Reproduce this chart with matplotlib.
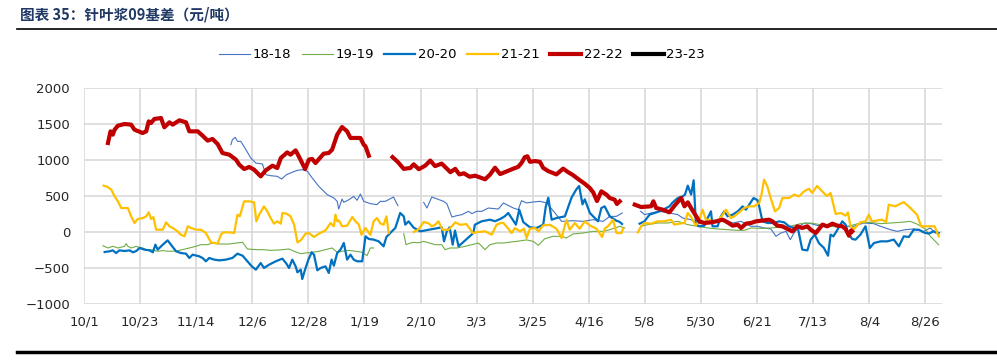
import numpy as np
import matplotlib
matplotlib.use("Agg")
import matplotlib.pyplot as plt
from matplotlib.lines import Line2D

plt.rcParams['font.family'] = ['DejaVu Sans', 'Noto Sans CJK SC']

nan = np.nan

# x = days since 10/1, y = basis (yuan/ton); nan marks a gap
s18 = [(57.6, 1213), (58.2, 1282), (59.3, 1315), (60.2, 1259), (61.5, 1259), (63.5, 1144), (65.4, 1028),
       (67.4, 958), (70, 944), (71.3, 796), (73.2, 782), (75.8, 773), (77.5, 736), (79.4, 796), (81, 820),
       (83.6, 856), (85.6, 866), (87.6, 843), (89.5, 750), (92.1, 634), (95.4, 519), (98, 472), (99.3, 426),
       (99.9, 319), (101.2, 458), (101.9, 412), (103.9, 449), (105.8, 495), (107.1, 440), (108.4, 528),
       (109.7, 426), (112.3, 394), (114.9, 380), (116.2, 426), (118.2, 426), (121.4, 486), (123.1, 366),
       (128, nan),
       (133.2, 412), (134.5, 333), (136.4, 486), (141, 426), (142.3, 394), (144.3, 208), (146.2, 227),
       (148.2, 241), (150.8, 287), (152.1, 255), (154, 287), (156, 287), (158.6, 333), (162.5, 319),
       (164.5, 403), (168.4, 333), (170.3, 310), (171.6, 435), (173.6, 403), (176.2, 417), (178.8, 426),
       (181.5, 403), (184.7, 264), (187.3, 148), (191.8, 157), (195.7, 148), (199.7, 171), (203.6, 148),
       (206.2, 217), (208.8, 217), (211.1, 264),
       (215, nan),
       (218.3, 287), (219.9, 241), (222.4, 264), (225.7, 287), (229.6, 264), (232.9, 241), (234.8, 194),
       (238.1, 171), (240.7, 116), (244.6, 125), (247.9, 148), (251, 171), (254.4, 125), (257.6, 148),
       (261.6, 79), (264.2, 79), (266.8, 56), (269.4, 42), (271.4, -60), (273.3, -14), (275.3, 9),
       (277, -106), (278.3, -23), (280.5, 79), (282.5, 125), (285.1, 116), (287.7, 90), (290.2, 102),
       (292.8, 95), (295.3, 80), (297.9, 69), (301.9, 79), (305.8, 125), (309.7, 116), (312.4, 79),
       (316.3, 32), (318.9, 9), (322.1, 32), (325.4, 42), (329.3, 9), (331.9, 56), (333.9, -14)]

s19 = [(7.4, -190), (9.4, -222), (11.3, -199), (13.3, -222), (15.9, -199), (16.5, -162), (17.2, -199),
       (18.5, -222), (20.5, -199), (21.1, -208), (23, -222), (24.4, -245), (26.3, -245), (28.9, -268),
       (30.9, -259), (33.5, -268), (36.1, -264), (38.7, -245), (41.3, -222), (43.9, -199), (45.9, -176),
       (48.5, -176), (50.4, -153), (53, -167), (57, -167), (59.6, -153), (62.2, -144), (64.1, -236),
       (67.4, -245), (70, -245), (73.2, -255), (76.5, -250), (80.4, -236), (82.4, -268), (85, -301),
       (86.9, -292), (89.5, -282), (92.1, -268), (94.7, -245), (97.3, -222), (99.3, -282), (101.2, -268),
       (103.9, -255), (106.5, -268), (109.1, -282), (111, -329), (112.3, -222), (113.6, -222),
       (119, nan),
       (125.4, -23), (126.3, -176), (128, -153), (129.3, -144), (131.3, -150), (133.2, -130), (135.2, -150),
       (137.7, -176), (140.3, -176), (141.6, -245), (143.6, -222), (146.2, -222), (149.5, -199),
       (152.1, -176), (154.7, -153), (157.3, -245), (159.2, -176), (161.8, -153), (164.5, -153),
       (167, -140), (169.7, -130), (173.6, -110), (176.2, -130), (178.2, -185), (180.7, -93), (184, -60),
       (187.3, -60), (189.2, -83), (191.8, -27), (195.7, -14), (199.7, 9), (203.6, 9), (206.2, 32),
       (210.1, 79), (212.1, 56),
       (215, nan),
       (218.3, 79), (221.1, 102), (225, 125), (229, 125), (232.9, 148), (236.8, 102), (240.7, 79),
       (244.6, 56), (248.5, 42), (252.4, 32), (256.4, 23), (259, 23), (261.6, 56), (265.5, 50),
       (269.4, 56), (272, 65), (274.6, 60), (277.1, 79), (281, 116), (285.1, 125), (289, 100), (292.9, 79),
       (296.8, 65), (300.8, 90), (304.5, 125), (308.4, 134), (312.4, 116), (316.3, 125), (320.2, 134),
       (324.1, 148), (326.7, 110), (330, 42), (331.9, -60), (335.2, -176)]

s20 = [(8.1, -278), (10, -268), (11.3, -255), (12.6, -292), (13.9, -255), (15.9, -264), (17.9, -255),
       (19.2, -282), (20.5, -264), (21.8, -222), (23.7, -245), (25.7, -255), (27, -282), (28, -176),
       (28.9, -245), (30.9, -176), (32.8, -116), (34.1, -176), (36.1, -268), (38, -292), (40, -301),
       (41.3, -361), (42.6, -315), (45.2, -338), (46.5, -361), (47.8, -407), (49.1, -361), (51.1, -384),
       (53, -394), (55.6, -384), (58.2, -361), (60.2, -301), (62.2, -329), (64.1, -407), (65.8, -477),
       (67.4, -523), (69.3, -431), (70.6, -500), (72.6, -454), (75.2, -407), (77.8, -370), (79.4, -440),
       (80.4, -500), (81.7, -384), (83, -477), (83.7, -560), (85, -523), (85.6, -653), (86.7, -523),
       (88, -384), (89.3, -282), (90.2, -315), (91.5, -532), (92.8, -500), (94.7, -477), (96, -569),
       (97.1, -384), (98, -468), (99.3, -292), (100.6, -245), (101.9, -153), (103.2, -384), (104.5, -315),
       (105.8, -384), (107.1, -407), (109.1, -407), (110.4, -60), (111.7, -97), (113.6, -106),
       (115.6, -130), (117.5, -199), (118.6, -69), (120.1, -14), (122.1, 56), (124, 264), (125.4, 218),
       (126, 102), (127.3, 148), (129.3, 60), (131.9, 9), (135, 30), (138, 50), (140.3, 65),
       (141.2, -130), (142.3, 10), (143.4, 65), (144.6, -176), (145.5, 20), (146.9, -199), (150, -100),
       (152.7, -14), (153.3, 101), (155.9, 148), (159.2, 171), (161.2, 150), (163.2, 180), (165, 217),
       (166.4, 264), (167.7, 194), (169.4, 102), (170.7, 310), (172.3, 137), (174.9, 65), (177.5, 56),
       (180.1, 102), (181.1, 352), (182.1, 477), (183.4, 171), (185.3, 194), (188.6, 217), (191.2, 477),
       (193.1, 593), (194.2, 639), (195.5, 384), (196.4, 454), (198.4, 264), (201.6, 148), (202.9, 333),
       (204.2, 356), (206.2, 217), (208.8, 157), (210.1, 140), (211, 111),
       (214, nan),
       (217.9, 116), (219.8, 148), (221.8, 241), (223.7, 264), (225.7, 287), (227.6, 319), (229.6, 356),
       (230.9, 412), (232.9, 472), (234.8, 495), (235.7, 519), (236.8, 644), (238.1, 519), (239.1, 718),
       (240, 102), (241.3, 79), (243.3, 88), (244.6, 194), (245.9, 287), (246.5, 79), (248.5, 79),
       (249.8, 218), (251.1, 287), (252.4, 218), (254.4, 241), (256.4, 287), (258.3, 356), (259.6, 310),
       (260.9, 380), (262.6, 472), (264.2, 440), (264.8, 356), (266.1, 148), (268.1, 125), (270.7, 125),
       (272.6, 148), (274.6, 134), (276.5, 79), (278.5, 56), (280, 50), (281.7, -245), (283.7, -255),
       (285, -106), (286.6, -37), (288.2, -153), (290.2, -222), (291.8, -329), (292.8, -37), (293.9, -60),
       (295.5, 32), (297.4, 148), (298.7, 102), (299.6, -14), (301.3, -97), (302.6, -106), (304.5, -37),
       (306.5, 79), (308.2, -222), (309.8, -153), (312.4, -130), (315, -130), (317.6, -106), (319.6, -199),
       (321.5, -60), (323.5, -69), (325.4, 32), (327.4, 32), (329.3, -5), (331.3, -23), (333.2, 9),
       (335.2, -14)]

s21 = [(7.7, 644), (9, 630), (10.7, 588), (12, 495), (13.3, 426), (14.6, 333), (17.2, 333), (18.5, 218),
       (19.8, 125), (21.1, 181), (23.1, 194), (24.4, 218), (25.4, 273), (26.3, 181), (27.2, 208),
       (28.3, 32), (30.9, 32), (32.2, 134), (33.5, 79), (34.8, 56), (36.7, 9), (38, -37), (39.4, -60),
       (40.7, 79), (42, 56), (43.9, 32), (45.9, 32), (47.8, -14), (49.8, -144), (52.4, -162), (53.7, -37),
       (54.6, -5), (57, -5), (58.9, -14), (60.2, 241), (61.1, 218), (62.8, 426), (64.8, 426), (66.7, 412),
       (67.6, 148), (68.7, 241), (70.6, 356), (71.9, 287), (73.2, 194), (74.5, 116), (75.8, 148),
       (77.2, 116), (77.8, 264), (79.4, 255), (81, 218), (82.4, 102), (83.7, -144), (85, -116),
       (86.9, -23), (88.2, -14), (90.2, -69), (92.1, -23), (94.7, 23), (96.7, 125), (98, 79), (98.6, 241),
       (99.3, 148), (100, 160), (101.2, 79), (103.2, 88), (105.2, 208), (106.5, 148), (107.8, 102),
       (108.8, -37), (110.4, 56), (112.3, -40), (113.6, 150), (114.9, 194), (116.2, 120), (117.5, 100),
       (118.6, 217), (119.5, -14),
       (124, nan),
       (129.3, 0), (131.3, 40), (133.2, 140), (135.2, 120), (136.4, 79), (137.7, 100), (139, 148),
       (140.6, 32), (143, 30), (145.6, 134), (147.5, 100), (150, 110), (152.5, -14), (154.5, 0),
       (157.3, 9), (159.9, -37), (161.8, 101), (163.5, 125), (164.5, 125), (166.4, 46), (167.7, -14),
       (169, 55), (171, 9), (172.5, 46), (173.6, -83), (174.9, 46), (176.9, 55), (178.2, 9), (180.1, 92),
       (182.7, 100), (185.3, 46), (187.3, -83), (189.2, 171), (190.5, 32), (192.5, 125), (194.4, 46),
       (196.4, 148), (198.4, 90), (201, 46), (203.2, -69), (204.2, 46), (205.8, 90), (207.5, 171),
       (208.8, -14), (210.8, -14), (211.4, 46),
       (214, nan),
       (217.2, -5), (218.5, 79), (219.8, 125), (222.4, 116), (225, 148), (227.6, 148), (230.2, 171),
       (231.5, 102), (233.5, 116), (235.5, 125), (236.8, 264), (238.1, 208), (240, 88), (241.3, 171),
       (242.6, 310), (243.9, 171), (245.2, 171), (246.5, 134), (248.5, 148), (250.5, 241), (251.8, 310),
       (253.7, 194), (255, 218), (257, 273), (258.9, 333), (260.9, 356), (262.8, 356), (264.8, 403),
       (265.7, 519), (266.7, 727), (268, 634), (269.3, 472), (271, 287), (272.6, 333), (273.9, 472),
       (276.5, 472), (278.5, 519), (280.4, 495), (282.4, 565), (284.3, 600), (285.6, 542), (287.5, 640),
       (289.5, 565), (291.3, 500), (292.8, 542), (294.8, 250), (296.8, 264), (298.7, 227), (299.6, 273),
       (300.6, 79), (301.9, 40), (304.5, 134), (306.5, 148), (307.8, 241), (309, 148), (311, 160),
       (313, 171), (314.6, 140), (315.6, 380), (318.2, 356), (320.2, 394), (321.5, 415), (324.1, 333),
       (326.7, 241), (328.3, 79), (331.3, 79), (333.6, 79), (335.2, -60)]

s22 = [(9.4, 1236), (10.4, 1398), (11.3, 1352), (12, 1421), (13.3, 1477), (15.9, 1500), (18.5, 1491),
       (19.8, 1421), (23, 1375), (24.4, 1398), (25.4, 1537), (26.3, 1514), (27.6, 1570), (30.2, 1583),
       (31.5, 1454), (33.5, 1523), (34.8, 1491), (37.4, 1551), (40, 1523), (41.3, 1398), (44.6, 1398),
       (46.5, 1338), (48.5, 1269), (50.4, 1292), (52.4, 1222), (54.3, 1097), (57, 1074), (59.6, 1005),
       (60.9, 935), (62.8, 875), (64.8, 903), (66.7, 866), (69.3, 773), (71.3, 857), (73.9, 921),
       (75.8, 889), (77.2, 1028), (79.7, 1106), (81, 1074), (83, 1134), (84.9, 1005), (86.7, 875),
       (88.2, 1005), (89.5, 1014), (90.8, 958), (94, 1088), (96, 1097), (97.3, 1143), (99.3, 1352),
       (101.2, 1458), (103.2, 1398), (104.5, 1306), (108.4, 1306), (109.7, 1213), (110.4, 1190),
       (111.7, 1060),
       (116, nan),
       (121, 1040), (123, 975), (125.4, 877), (128, 889), (129.3, 940), (131.3, 872), (133.8, 921),
       (135.8, 992), (137.7, 915), (140.3, 950), (143.7, 831), (145.6, 877), (147.2, 800), (149, 815),
       (151.2, 768), (153.4, 782), (157.3, 732), (159.2, 796), (161.2, 893), (163.2, 805), (165, 830),
       (167, 860), (168.4, 880), (170.3, 905), (171.6, 960), (172.9, 1040), (173.9, 1051), (174.9, 975),
       (176.9, 985), (178.8, 975), (180.1, 890), (182.1, 845), (185.3, 800), (187.9, 880), (189.9, 830),
       (191.8, 790), (194.4, 720), (196.4, 670), (198.4, 610), (199.7, 550), (201.2, 430), (202.9, 565),
       (204.9, 519), (206.2, 472), (208.1, 449), (209, 389), (210.1, 426),
       (213, nan),
       (216, 380), (218.5, 347), (222.4, 357), (223.3, 426), (224.4, 333), (227, 310), (229.6, 273),
       (231.6, 366), (234.2, 472), (235.5, 357), (236.8, 412), (238.1, 333), (240.1, 218), (241.3, 148),
       (243.3, 125), (245.9, 134), (247.9, 148), (250.5, 171), (252.4, 134), (254.4, 88), (256.4, 102),
       (257.7, 56), (259.6, 116), (261.6, 125), (263.5, 148), (266.8, 162), (268.7, 171), (270, 148),
       (271.9, 88), (273.9, 79), (275.9, 42), (277.8, 9), (279.8, 79), (281.7, 56), (283.7, 79), (285, 32),
       (287, -14), (289.6, 102), (291.5, 79), (293.5, 116), (295.5, 88), (297.4, 79), (298.7, 42),
       (300, -51), (300.9, 23), (301.3, 9)]

s23 = []  # no data yet

series = ['18-18', '19-19', '20-20', '21-21', '22-22', '23-23']
tick_labels = ['10/1', '10/23', '11/14', '12/6', '12/28', '1/19', '2/10', '3/3',
               '3/25', '4/16', '5/8', '5/30', '6/21', '7/13', '8/4', '8/26']

colors = ['#4472C4', '#70AD47', '#0070C0', '#FFC000', '#C00000', '#000000']
widths = [0.8, 0.8, 1.6, 1.6, 3.0, 3.0]

fig = plt.figure(figsize=(9.97, 3.62), dpi=100)
ax = fig.add_axes([84 / 997, 1 - 304 / 362, (942 - 84) / 997, 216 / 362])

for name, data, c, lw in zip(series, [s18, s19, s20, s21, s22, s23], colors, widths):
    if data:
        xs, ys = zip(*data)
    else:
        xs, ys = [], []
    ax.plot(xs, ys, color=c, lw=lw, label=name, solid_joinstyle='round')

ax.set_xlim(0, 336.5)
ax.set_ylim(-1000, 2000)
ax.set_xticks([22 * i for i in range(len(tick_labels))])
ax.set_xticklabels(tick_labels)
ax.set_yticks(range(-1000, 2001, 500))
ax.grid(True, color='#D9D9D9', lw=1.2)
ax.set_axisbelow(True)
for sp in ax.spines.values():
    sp.set_visible(False)
ax.tick_params(axis='both', length=0, labelsize=9.5, colors='#262626')
ax.tick_params(axis='y', pad=10)
ax.tick_params(axis='x', pad=8)

fig.legend(loc='center', bbox_to_anchor=(462 / 997, 1 - 55 / 362), ncol=6, frameon=False,
           fontsize=9.5, handlelength=2.35, handletextpad=0.2, columnspacing=0.8)

fig.text(20 / 997, 1 - 15 / 362, '图表 35：针叶浆09基差（元/吨）', fontsize=10.5, fontweight='bold',
         color='#1F3864', va='center', ha='left', family=['Noto Sans CJK SC', 'DejaVu Sans'])
fig.add_artist(Line2D([17 / 997, 1], [1 - 29 / 362] * 2, color='black', lw=1.2))
fig.add_artist(Line2D([17 / 997, 1], [1 - 352 / 362] * 2, color='black', lw=2.5))

fig.savefig('out.png', dpi=100)
